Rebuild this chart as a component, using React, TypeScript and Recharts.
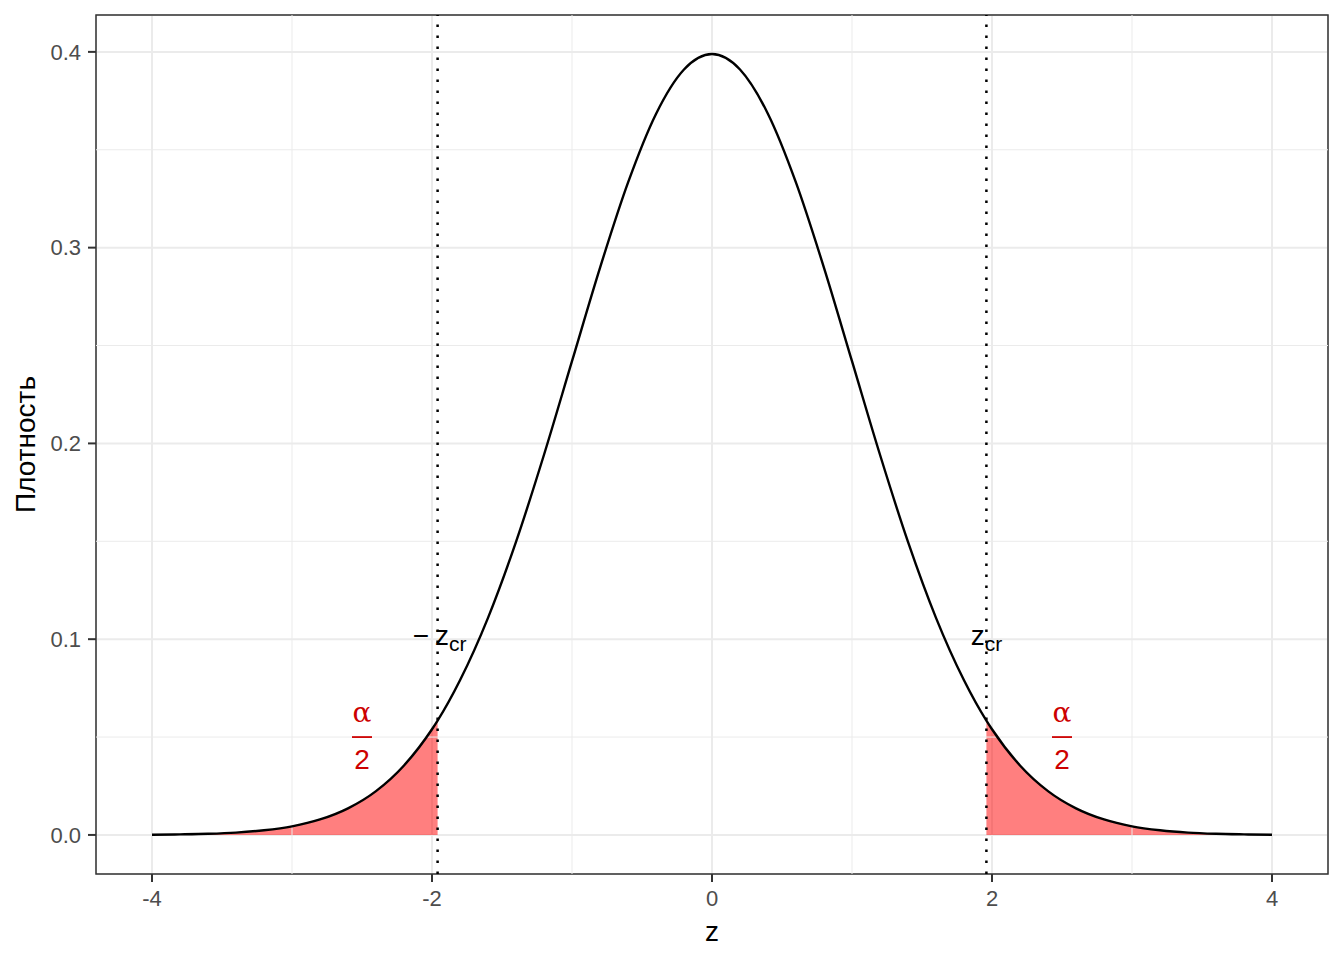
import React from "react";
import {
  ComposedChart,
  Area,
  Line,
  XAxis,
  YAxis,
  CartesianGrid,
  ReferenceLine,
  ReferenceDot,
  ReferenceArea,
} from "recharts";

// z grid and the density
const zValues = [
  -4, -3.8, -3.6, -3.4, -3.2, -3, -2.8, -2.6, -2.4, -2.2, -2, -1.96, -1.8, -1.6, -1.4, -1.2, -1, -0.8, -0.6, -0.4,
  -0.2, 0, 0.2, 0.4, 0.6, 0.8, 1, 1.2, 1.4, 1.6, 1.8, 1.96, 2, 2.2, 2.4, 2.6, 2.8, 3, 3.2, 3.4, 3.6, 3.8, 4,
];
const density = [
  0.0001, 0.0003, 0.0006, 0.0012, 0.0024, 0.0044, 0.0079, 0.0136, 0.0224, 0.0355, 0.054, 0.0584, 0.079, 0.1109,
  0.1497, 0.1942, 0.242, 0.2897, 0.3332, 0.3683, 0.391, 0.3989, 0.391, 0.3683, 0.3332, 0.2897, 0.242, 0.1942,
  0.1497, 0.1109, 0.079, 0.0584, 0.054, 0.0355, 0.0224, 0.0136, 0.0079, 0.0044, 0.0024, 0.0012, 0.0006, 0.0003,
  0.0001,
];
const zCritical = 1.96;
const xTicks = [-4, -2, 0, 2, 4];
const xMinor = [-3, -1, 1, 3];
const yTicks = [0, 0.1, 0.2, 0.3, 0.4];
const yMinor = [0.05, 0.15, 0.25, 0.35];
const alphaLabelX = [-2.5, 2.5];
const alphaLabelY = 0.05;
const zLabelY = 0.1;

const data = zValues.map((z, i) => ({
  z,
  d: density[i],
  left: z <= -zCritical ? density[i] : null,
  right: z >= zCritical ? density[i] : null,
}));

const GRID = "#EBEBEB";
const RED = "#CD0000";
const FONT = '"Liberation Sans", Arial, Helvetica, sans-serif';

const tickStyle = { fill: "#4D4D4D", fontSize: 22, fontFamily: FONT };

function ZLabel({ cx, cy, neg }: any) {
  return (
    <text x={cx + (neg ? 2 : 0)} y={cy + 6} textAnchor="middle" fill="#000" fontSize={28} fontFamily={FONT}>
      {neg ? <tspan>−</tspan> : null}
      <tspan dx={neg ? 6 : 0}>z</tspan>
      <tspan dy={6} fontSize={21}>
        cr
      </tspan>
    </text>
  );
}

function AlphaLabel({ cx, cy }: any) {
  return (
    <g>
      <text x={cx} y={cy - 15} textAnchor="middle" fill={RED} fontSize={28} fontFamily='"DejaVu Serif", serif'>
        α
      </text>
      <line x1={cx - 10} x2={cx + 10} y1={cy} y2={cy} stroke={RED} strokeWidth={1.8} />
      <text x={cx} y={cy + 32} textAnchor="middle" fill={RED} fontSize={28} fontFamily={FONT}>
        2
      </text>
    </g>
  );
}

const XTitle = ({ viewBox }: any) => (
  <text x={viewBox.x + viewBox.width / 2} y={941} textAnchor="middle" fill="#000" fontSize={28} fontFamily={FONT}>
    z
  </text>
);

const YTitle = ({ viewBox }: any) => {
  const cy = viewBox.y + viewBox.height / 2;
  return (
    <text
      x={35}
      y={cy}
      transform={`rotate(-90, 35, ${cy})`}
      textAnchor="middle"
      fill="#000"
      fontSize={28}
      fontFamily={FONT}
    >
      Плотность
    </text>
  );
};

export default function App() {
  return (
    <div style={{ position: "absolute", left: 0, top: 0, width: 1344, height: 960, background: "#fff", fontFamily: FONT }}>
      <ComposedChart width={1344} height={960} data={data} margin={{ top: 15, right: 16, bottom: 0, left: 0 }}>
        <CartesianGrid stroke={GRID} strokeWidth={2} />
        {xMinor.map((x) => (
          <ReferenceLine key={"vx" + x} x={x} stroke={GRID} strokeWidth={1} />
        ))}
        {yMinor.map((y) => (
          <ReferenceLine key={"hy" + y} y={y} stroke={GRID} strokeWidth={1} />
        ))}
        <XAxis
          dataKey="z"
          type="number"
          domain={[-4.4, 4.4]}
          ticks={xTicks}
          height={86}
          axisLine={false}
          tickSize={8}
          tickMargin={8}
          tickLine={{ stroke: "#333333", strokeWidth: 2 }}
          tick={tickStyle}
          allowDataOverflow
          label={XTitle}
        />
        <YAxis
          type="number"
          domain={[-0.01995, 0.41884]}
          ticks={yTicks}
          width={96}
          axisLine={false}
          tickSize={8}
          tickMargin={7}
          tickLine={{ stroke: "#333333", strokeWidth: 2 }}
          tick={tickStyle}
          tickFormatter={(v) => Number(v).toFixed(1)}
          allowDataOverflow
          label={YTitle}
        />
        <Area
          dataKey="left"
          type="monotone"
          stroke="none"
          fill="#FF0000"
          fillOpacity={0.5}
          baseValue={0}
          isAnimationActive={false}
        />
        <Area
          dataKey="right"
          type="monotone"
          stroke="none"
          fill="#FF0000"
          fillOpacity={0.5}
          baseValue={0}
          isAnimationActive={false}
        />
        <Line dataKey="d" type="monotone" stroke="#000" strokeWidth={2.4} dot={false} activeDot={false} isAnimationActive={false} />
        <ReferenceLine x={-zCritical} stroke="#000" strokeWidth={2.5} strokeDasharray="2.5 8.5" />
        <ReferenceLine x={zCritical} stroke="#000" strokeWidth={2.5} strokeDasharray="2.5 8.5" />
        <ReferenceDot x={-zCritical} y={zLabelY} r={0} shape={(p: any) => <ZLabel {...p} neg />} />
        <ReferenceDot x={zCritical} y={zLabelY} r={0} shape={(p: any) => <ZLabel {...p} />} />
        {alphaLabelX.map((x) => (
          <ReferenceDot key={"a" + x} x={x} y={alphaLabelY} r={0} shape={(p: any) => <AlphaLabel {...p} />} />
        ))}
        <ReferenceArea x1={-4.4} x2={4.4} y1={-0.01995} y2={0.41884} fill="none" stroke="#333333" strokeWidth={1.5} />
      </ComposedChart>
    </div>
  );
}
